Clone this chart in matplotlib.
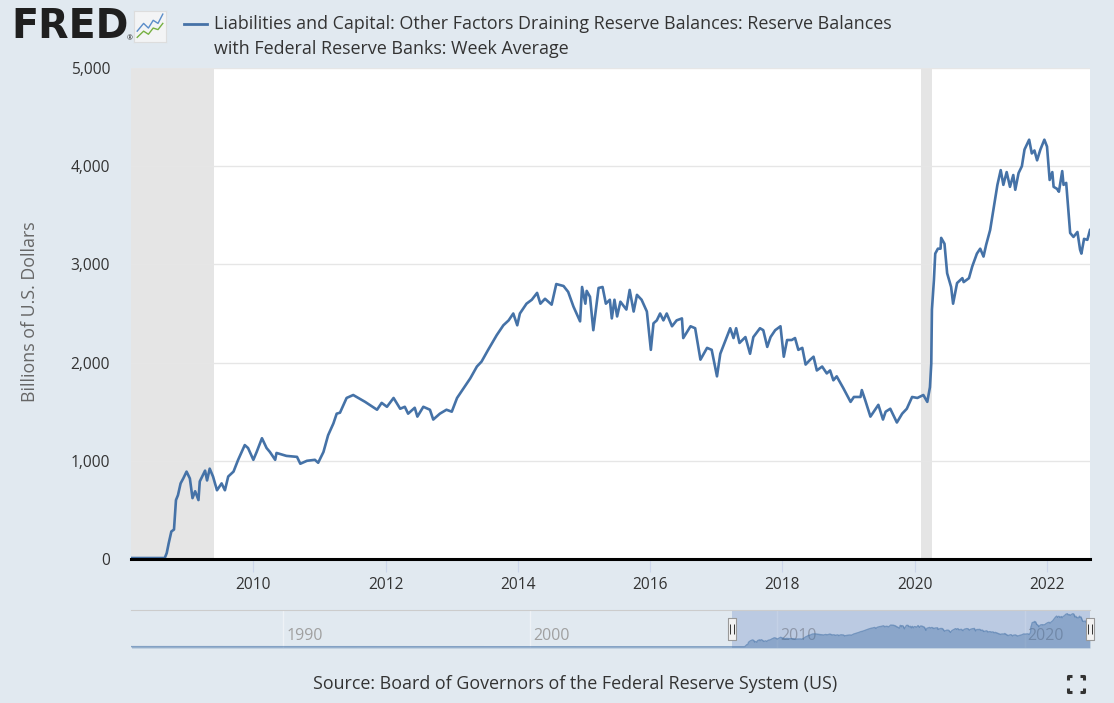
import matplotlib
matplotlib.use('Agg')
import matplotlib.pyplot as plt
from matplotlib.path import Path
from matplotlib import transforms

plt.rcParams['font.family'] = ['Open Sans', 'DejaVu Sans']

# Reserve balances with Federal Reserve Banks, week average (billions of US$)
years = [2008.15, 2008.66, 2008.69, 2008.72, 2008.76, 2008.80, 2008.83, 2008.86, 2008.90, 2008.94,
         2008.99, 2009.04, 2009.08, 2009.12, 2009.17, 2009.19, 2009.27, 2009.30, 2009.34, 2009.39,
         2009.45, 2009.52, 2009.57, 2009.62, 2009.70, 2009.77, 2009.87, 2009.92, 2010.00, 2010.05,
         2010.13, 2010.20, 2010.25, 2010.33, 2010.35, 2010.50, 2010.66, 2010.71, 2010.81, 2010.93,
         2010.98, 2011.06, 2011.13, 2011.21, 2011.26, 2011.31, 2011.41, 2011.51, 2011.69, 2011.87,
         2011.94, 2012.02, 2012.12, 2012.22, 2012.29, 2012.34, 2012.44, 2012.48, 2012.57, 2012.67,
         2012.72, 2012.82, 2012.92, 2013.00, 2013.08, 2013.18, 2013.28, 2013.38, 2013.45, 2013.55,
         2013.68, 2013.78, 2013.86, 2013.93, 2013.99, 2014.03, 2014.13, 2014.21, 2014.29, 2014.34,
         2014.41, 2014.51, 2014.58, 2014.69, 2014.76, 2014.84, 2014.94, 2014.97, 2015.02, 2015.04,
         2015.09, 2015.14, 2015.22, 2015.28, 2015.33, 2015.39, 2015.42, 2015.46, 2015.50, 2015.55,
         2015.64, 2015.69, 2015.75, 2015.80, 2015.87, 2015.95, 2016.01, 2016.05, 2016.10, 2016.15,
         2016.20, 2016.25, 2016.33, 2016.40, 2016.48, 2016.50, 2016.61, 2016.68, 2016.76, 2016.86,
         2016.93, 2017.01, 2017.06, 2017.13, 2017.21, 2017.26, 2017.30, 2017.35, 2017.44, 2017.51,
         2017.56, 2017.66, 2017.71, 2017.77, 2017.82, 2017.89, 2017.97, 2018.02, 2018.07, 2018.14,
         2018.19, 2018.24, 2018.30, 2018.35, 2018.42, 2018.47, 2018.52, 2018.60, 2018.67, 2018.72,
         2018.77, 2018.82, 2018.92, 2019.03, 2019.08, 2019.18, 2019.20, 2019.25, 2019.33, 2019.38,
         2019.45, 2019.52, 2019.56, 2019.63, 2019.73, 2019.81, 2019.88, 2019.96, 2020.04, 2020.13,
         2020.19, 2020.23, 2020.25, 2020.26, 2020.29, 2020.31, 2020.35, 2020.39, 2020.40, 2020.45,
         2020.49, 2020.55, 2020.58, 2020.64, 2020.72, 2020.74, 2020.82, 2020.87, 2020.94, 2020.99,
         2021.04, 2021.08, 2021.14, 2021.19, 2021.25, 2021.30, 2021.34, 2021.39, 2021.44, 2021.49,
         2021.52, 2021.57, 2021.62, 2021.66, 2021.73, 2021.77, 2021.81, 2021.85, 2021.90, 2021.96,
         2022.00, 2022.04, 2022.08, 2022.10, 2022.15, 2022.18, 2022.23, 2022.25, 2022.29, 2022.35,
         2022.40, 2022.46, 2022.50, 2022.52, 2022.56, 2022.61, 2022.65]
reserves = [10, 10, 60, 160, 280, 300, 600, 650, 770, 820,
            890, 820, 620, 690, 600, 790, 900, 800, 920, 840,
            700, 770, 700, 840, 890, 1010, 1160, 1130, 1010, 1090,
            1230, 1130, 1090, 1010, 1080, 1050, 1040, 970, 1000, 1010,
            980, 1090, 1260, 1380, 1480, 1490, 1640, 1670, 1600, 1520,
            1590, 1550, 1640, 1530, 1550, 1480, 1540, 1450, 1550, 1520,
            1420, 1480, 1520, 1500, 1640, 1740, 1840, 1960, 2010, 2130,
            2280, 2380, 2430, 2500, 2380, 2500, 2600, 2640, 2710, 2600,
            2650, 2590, 2800, 2780, 2720, 2570, 2420, 2770, 2600, 2730,
            2670, 2330, 2760, 2770, 2600, 2640, 2450, 2640, 2470, 2620,
            2540, 2740, 2520, 2690, 2640, 2520, 2130, 2400, 2430, 2500,
            2430, 2500, 2370, 2430, 2450, 2250, 2370, 2350, 2030, 2150,
            2130, 1860, 2090, 2210, 2350, 2250, 2350, 2200, 2260, 2090,
            2260, 2350, 2330, 2160, 2260, 2330, 2370, 2060, 2230, 2230,
            2250, 2130, 2150, 1980, 2030, 2060, 1920, 1960, 1890, 1920,
            1820, 1860, 1740, 1600, 1650, 1650, 1720, 1620, 1450, 1500,
            1570, 1420, 1500, 1530, 1390, 1480, 1530, 1650, 1640, 1670,
            1600, 1750, 1990, 2540, 2840, 3110, 3160, 3160, 3270, 3210,
            2910, 2770, 2600, 2810, 2860, 2820, 2860, 2980, 3110, 3160,
            3080, 3200, 3350, 3560, 3810, 3960, 3810, 3940, 3790, 3910,
            3760, 3930, 4000, 4170, 4270, 4130, 4160, 4060, 4170, 4270,
            4200, 3860, 3940, 3790, 3770, 3740, 3950, 3810, 3830, 3320,
            3280, 3330, 3150, 3110, 3260, 3250, 3350]

# flat stretch before the zoomed window, only seen in the navigator strip
early_years = [1983.85, 1996.4, 2008.1]
early_reserves = [30, 15, 10]

recessions = [(2007.92, 2009.4), (2020.09, 2020.26)]
y_ticks = [0, 1000, 2000, 3000, 4000, 5000]
x_ticks = [2010, 2012, 2014, 2016, 2018, 2020, 2022]
nav_ticks = [1990, 2000, 2010, 2020]

title_lines = ["Liabilities and Capital: Other Factors Draining Reserve Balances: Reserve Balances",
               "with Federal Reserve Banks: Week Average"]
y_label = "Billions of U.S. Dollars"
source = "Source: Board of Governors of the Federal Reserve System (US)"

W, H = 1114, 703
bg = '#e1e9f0'
blue = '#4572a7'
txt = '#333333'

fig = plt.figure(figsize=(W / 100, H / 100), dpi=100, facecolor=bg)

# ---- main chart
ax = fig.add_axes([131 / W, 1 - 559 / H, 959 / W, 491 / H], facecolor='white')
for start, end in recessions:
    ax.axvspan(start, end, color='#e5e5e5', lw=0, zorder=0)
ax.plot(years, reserves, color=blue, lw=1.9, zorder=3, solid_joinstyle='round')
ax.set_xlim(years[0], years[-1])
ax.set_ylim(0, 5000)
ax.set_yticks(y_ticks)
ax.set_yticklabels([f'{v:,}' for v in y_ticks])
ax.set_xticks(x_ticks)
ax.set_xticklabels([str(v) for v in x_ticks])
ax.yaxis.grid(True, color='#e6e6e6', lw=1)
ax.set_axisbelow(True)
for s in ['top', 'left', 'right']:
    ax.spines[s].set_visible(False)
ax.spines['bottom'].set_color('black')
ax.spines['bottom'].set_linewidth(2.2)
ax.spines['bottom'].set_zorder(4)
ax.tick_params(axis='y', length=0, pad=15, labelsize=11.2, labelcolor=txt)
ax.tick_params(axis='x', length=9.5, width=0.8, color='#ccd6eb', pad=3.5,
               labelsize=11.2, labelcolor=txt)

fig.text(30 / W, 1 - 312 / H, y_label, rotation=90, ha='center', va='center',
         fontsize=12.8, color='#666666')

# ---- navigator strip
nav = fig.add_axes([131 / W, 1 - 648 / H, 959 / W, 38 / H], facecolor='none')
nav_years = early_years + years
nav_vals = early_reserves + reserves
nav.set_xlim(1983.83, years[-1])
nav.set_ylim(-150, 4750)
for t in nav_ticks:
    nav.axvline(t, color='#eef2f6', lw=1, zorder=0)
lab_tr = transforms.offset_copy(nav.get_xaxis_transform(), fig=fig, x=3, y=0, units='dots')
for t in nav_ticks:
    nav.text(t, 0.32, str(t), transform=lab_tr, ha='left', va='center',
             fontsize=11.5, color='#a0a0a0', zorder=1)
nav.axvspan(years[0], years[-1], color='#6685c2', alpha=0.3, lw=0, zorder=2)
nav.fill_between(nav_years, nav_vals, -150, color=blue, alpha=0.4, lw=0, zorder=3)
nav.plot(nav_years, nav_vals, color=blue, lw=1, alpha=0.6, zorder=3)
nav.set_xticks([])
nav.set_yticks([])
for s in ['left', 'right', 'bottom']:
    nav.spines[s].set_visible(False)
nav.spines['top'].set_color('#cccccc')

handle_box = Path([(-4, -11), (4, -11), (4, 11), (-4, 11), (-4, -11)])
handle_bars = Path([(0, 11), (0, -11), (-1.5, -5), (-1.5, 5), (1.5, -5), (1.5, 5)],
                   [Path.MOVETO, Path.MOVETO, Path.MOVETO, Path.LINETO, Path.MOVETO, Path.LINETO])
xtr = nav.get_xaxis_transform()
for hx in [years[0], years[-1]]:
    nav.plot([hx], [0.5], transform=xtr, marker=handle_box, ms=16, mfc='#f2f2f2',
             mec='#999999', mew=0.8, zorder=5, clip_on=False)
    nav.plot([hx], [0.5], transform=xtr, marker=handle_bars, ms=16, mfc='none',
             mec='#333333', mew=0.7, zorder=6, clip_on=False)

# ---- header: logo + legend
fig.text(11 / W, 1 - 27 / H, "FRED", fontsize=28.5, fontweight='bold', color='#1f1f1f',
         ha='left', va='center', family=['DejaVu Sans'])
fig.text(127 / W, 1 - 39 / H, "®", fontsize=5, color='#1f1f1f', ha='left', va='center')
icon = fig.add_axes([134 / W, 1 - 42 / H, 32 / W, 31 / H], facecolor='#f3f4f5')
icon.plot([0.1, 0.3, 0.45, 0.6, 0.75, 0.9], [0.35, 0.6, 0.45, 0.7, 0.6, 0.9], color='#5b8dc9', lw=1)
icon.plot([0.1, 0.3, 0.45, 0.6, 0.75, 0.9], [0.15, 0.35, 0.25, 0.45, 0.4, 0.6], color='#76b041', lw=1)
icon.set_xlim(0, 1)
icon.set_ylim(0, 1)
icon.set_xticks([])
icon.set_yticks([])
for s in icon.spines.values():
    s.set_color('#dddddd')

fig.add_artist(plt.Line2D([184 / W, 207 / W], [1 - 24 / H, 1 - 24 / H], color=blue, lw=2))
fig.text(214 / W, 1 - 24 / H, title_lines[0], fontsize=12.9, color=txt, ha='left', va='center')
fig.text(214 / W, 1 - 49 / H, title_lines[1], fontsize=12.9, color=txt, ha='left', va='center')

# ---- footer
fig.text(575 / W, 1 - 684 / H, source, fontsize=12.9, color=txt, ha='center', va='center')
# full-screen glyph: four small corner brackets
cx, cy, r, k = 1076, 684, 8, 4
for sx in (-1, 1):
    for sy in (-1, 1):
        xs = [cx + sx * (r - k), cx + sx * r, cx + sx * r]
        ys = [cy + sy * r, cy + sy * r, cy + sy * (r - k)]
        fig.add_artist(plt.Line2D([x / W for x in xs], [1 - y / H for y in ys],
                                  color='#333333', lw=2.2, solid_capstyle='butt'))

fig.savefig('out.png', dpi=100, facecolor=fig.get_facecolor())
